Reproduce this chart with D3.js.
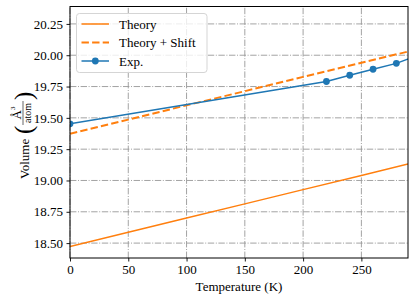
<!DOCTYPE html>
<html>
<head>
<meta charset="utf-8">
<script src="https://cdn.jsdelivr.net/npm/d3@7"></script>
<style>
html,body{margin:0;padding:0;background:#fff;}
svg{display:block;}
text{font-family:"Liberation Serif","Times New Roman",serif;fill:#000;}
</style>
</head>
<body>
<svg id="chart" width="415" height="301"></svg>
<script>
// ---- data ----
const theoryT = [0, 50, 100, 150, 200, 250, 290];
const theoryV = [18.473, 18.586, 18.700, 18.813, 18.927, 19.040, 19.131];
const shiftT  = [0, 50, 100, 150, 200, 250, 290];
const shiftV  = [19.373, 19.486, 19.600, 19.713, 19.827, 19.940, 20.029];
const expT    = [0, 220, 240, 260, 280, 300];
const expV    = [19.452, 19.790, 19.840, 19.888, 19.935, 20.005];
const xTicks  = [0, 50, 100, 150, 200, 250];
const yTicks  = [18.50, 18.75, 19.00, 19.25, 19.50, 19.75, 20.00, 20.25];
const legendLabels = ["Theory", "Theory + Shift", "Exp."];

const W = 415, H = 301;
const m = {left: 70, right: 7, top: 6.5, bottom: 43};
const svg = d3.select("#chart");
const x = d3.scaleLinear().domain([0, 290]).range([m.left, W - m.right]);
const y = d3.scaleLinear().domain([18.381, 20.389]).range([H - m.bottom, m.top]);
const orange = "#ff7f0e", blue = "#1f77b4";

svg.append("defs").append("clipPath").attr("id", "clip")
  .append("rect").attr("x", m.left).attr("y", m.top)
  .attr("width", x.range()[1] - m.left).attr("height", y.range()[0] - m.top);

// grid
const grid = svg.append("g").attr("stroke", "#999").attr("stroke-width", 0.9)
  .attr("stroke-dasharray", "6.4,1.6,1,1.6").attr("fill", "none");
xTicks.forEach(t => grid.append("line").attr("x1", x(t)).attr("x2", x(t))
  .attr("y1", y.range()[0]).attr("y2", m.top));
yTicks.forEach(t => grid.append("line").attr("y1", y(t)).attr("y2", y(t))
  .attr("x1", m.left).attr("x2", x.range()[1]));

// lines
const plot = svg.append("g").attr("clip-path", "url(#clip)");
const line = d3.line().x(d => x(d[0])).y(d => y(d[1]));
plot.append("path").datum(theoryT.map((t, i) => [t, theoryV[i]]))
  .attr("d", line).attr("fill", "none").attr("stroke", orange).attr("stroke-width", 1.5);
plot.append("path").datum(shiftT.map((t, i) => [t, shiftV[i]]))
  .attr("d", line).attr("fill", "none").attr("stroke", orange).attr("stroke-width", 2)
  .attr("stroke-dasharray", "7.4,3.2");
const expData = expT.map((t, i) => [t, expV[i]]);
plot.append("path").datum(expData)
  .attr("d", line).attr("fill", "none").attr("stroke", blue).attr("stroke-width", 1.5);
plot.selectAll("circle.exp").data(expData).enter().append("circle")
  .attr("class", "exp").attr("cx", d => x(d[0])).attr("cy", d => y(d[1]))
  .attr("r", 3.4).attr("fill", blue);

// axes
const xAxis = svg.append("g").attr("transform", `translate(0,${y.range()[0]})`)
  .call(d3.axisBottom(x).tickValues(xTicks).tickSize(3.5).tickPadding(3).tickFormat(d3.format("d")));
const yAxis = svg.append("g").attr("transform", `translate(${m.left},0)`)
  .call(d3.axisLeft(y).tickValues(yTicks).tickSize(3.5).tickPadding(3.5).tickFormat(d3.format(".2f")));
[xAxis, yAxis].forEach(a => {
  a.select(".domain").remove();
  a.selectAll(".tick line").attr("stroke", "#000").attr("stroke-width", 0.9);
  a.selectAll(".tick text").attr("font-size", 13).attr("font-family", "Liberation Serif");
});

// frame
svg.append("rect").attr("x", m.left).attr("y", m.top)
  .attr("width", x.range()[1] - m.left).attr("height", y.range()[0] - m.top)
  .attr("fill", "none").attr("stroke", "#000").attr("stroke-width", 1);

// x label
svg.append("text").attr("x", (m.left + x.range()[1]) / 2).attr("y", 291)
  .attr("text-anchor", "middle").attr("font-size", 13).text("Temperature (K)");

// y label
const yl = svg.append("g").attr("transform", "translate(29,133) rotate(-90)");
yl.append("text").attr("x", -46).attr("y", 0).attr("font-size", 13).text("Volume");
yl.append("text").attr("x", -1).attr("y", 3).attr("font-size", 25).attr("font-weight", 300).text("(");
yl.append("text").attr("x", 20).attr("y", -8.5).attr("text-anchor", "middle").attr("font-size", 13)
  .text("Å").append("tspan").attr("font-size", 7).attr("dy", -6).text("3");
yl.append("line").attr("x1", 8).attr("x2", 32).attr("y1", -6).attr("y2", -6)
  .attr("stroke", "#000").attr("stroke-width", 0.6);
yl.append("text").attr("x", 20).attr("y", 1.5).attr("text-anchor", "middle").attr("font-size", 10).text("atom");
yl.append("text").attr("x", 33).attr("y", 3).attr("font-size", 25).attr("font-weight", 300).text(")");

// legend
const lg = svg.append("g");
lg.append("rect").attr("x", 76.5).attr("y", 13.5).attr("width", 130.5).attr("height", 59)
  .attr("rx", 3).attr("fill", "#fff").attr("fill-opacity", 0.8)
  .attr("stroke", "#d5d5d5").attr("stroke-width", 1);
const rows = [24, 42.5, 61];
const styles = [
  {c: orange, w: 1.5, dash: null, marker: false},
  {c: orange, w: 2, dash: "7.4,3.2", marker: false},
  {c: blue, w: 1.5, dash: null, marker: true}
];
legendLabels.forEach((lab, i) => {
  const s = styles[i];
  const l = lg.append("line").attr("x1", 81.5).attr("x2", 109).attr("y1", rows[i]).attr("y2", rows[i])
    .attr("stroke", s.c).attr("stroke-width", s.w);
  if (s.dash) l.attr("stroke-dasharray", s.dash);
  if (s.marker) lg.append("circle").attr("cx", 95.3).attr("cy", rows[i]).attr("r", 3.4).attr("fill", s.c);
  lg.append("text").attr("x", 119).attr("y", rows[i] + 4.5).attr("font-size", 13).text(lab);
});
</script>
</body>
</html>
